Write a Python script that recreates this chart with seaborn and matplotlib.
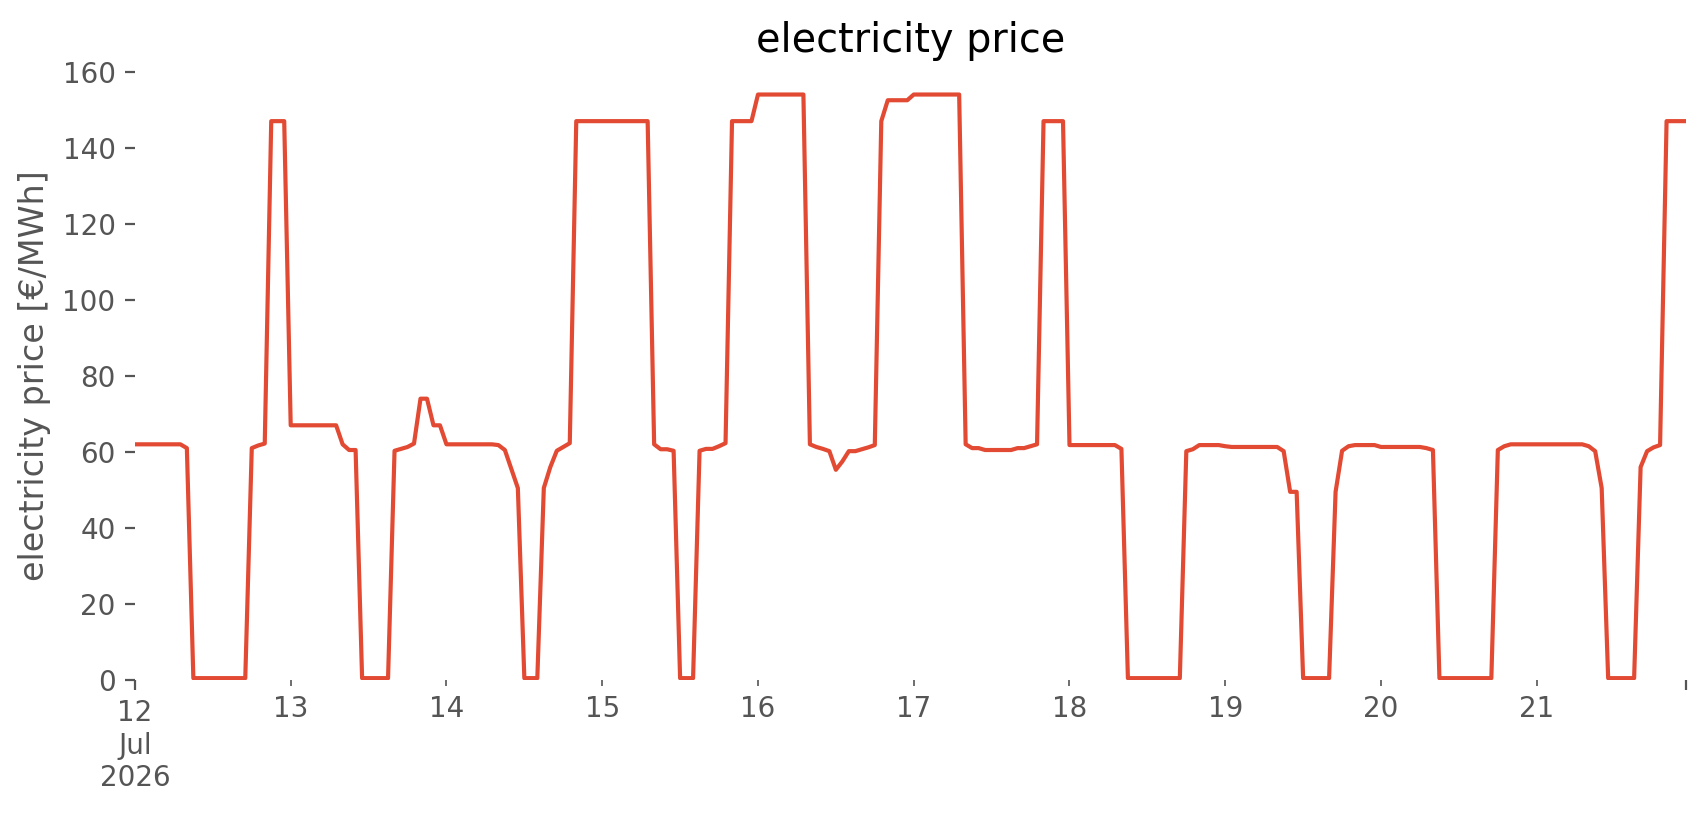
import matplotlib
matplotlib.use("Agg")
import matplotlib.pyplot as plt
import seaborn as sns
import pandas as pd

start = "2026-07-12 00:00"

day12 = [62, 62, 62, 62, 62, 62, 62, 62, 61, 0.5, 0.5, 0.5, 0.5, 0.5, 0.5, 0.5, 0.5, 0.5,
         61, 61.7, 62.2, 147, 147, 147]
day13 = [67, 67, 67, 67, 67, 67, 67, 67, 62, 60.5, 60.5, 0.5, 0.5, 0.5, 0.5, 0.5,
         60.3, 60.8, 61.3, 62.2, 74, 74, 67, 67]
day14 = [62, 62, 62, 62, 62, 62, 62, 62, 61.8, 60.5, 55.5, 50.5, 0.5, 0.5, 0.5,
         50.5, 56, 60.3, 61.3, 62.3, 147, 147, 147, 147]
day15 = [147, 147, 147, 147, 147, 147, 147, 147, 62, 60.7, 60.7, 60.3, 0.5, 0.5, 0.5,
         60.3, 60.8, 60.8, 61.5, 62.3, 147, 147, 147, 147]
day16 = [154, 154, 154, 154, 154, 154, 154, 154, 62, 61.3, 60.8, 60.2, 55.3, 57.5,
         60.2, 60.2, 60.7, 61.2, 61.8, 147, 152.5, 152.5, 152.5, 152.5]
day17 = [154, 154, 154, 154, 154, 154, 154, 154, 62, 61, 61, 60.5, 60.5, 60.5, 60.5,
         60.5, 61, 61, 61.5, 62, 147, 147, 147, 147]
day18 = [61.8, 61.8, 61.8, 61.8, 61.8, 61.8, 61.8, 61.8, 60.8, 0.5, 0.5, 0.5, 0.5, 0.5,
         0.5, 0.5, 0.5, 0.5, 60.2, 60.7, 61.8, 61.8, 61.8, 61.8]
day19 = [61.5, 61.3, 61.3, 61.3, 61.3, 61.3, 61.3, 61.3, 61.3, 60.2, 49.5, 49.5,
         0.5, 0.5, 0.5, 0.5, 0.5, 49.5, 60.3, 61.5, 61.8, 61.8, 61.8, 61.8]
day20 = [61.3, 61.3, 61.3, 61.3, 61.3, 61.3, 61.3, 61, 60.5, 0.5, 0.5, 0.5, 0.5, 0.5,
         0.5, 0.5, 0.5, 0.5, 60.5, 61.5, 62, 62, 62, 62]
day21 = [62, 62, 62, 62, 62, 62, 62, 62, 61.5, 60.2, 50.5, 0.5, 0.5, 0.5, 0.5, 0.5,
         56, 60.2, 61.2, 61.8, 147, 147, 147, 147]

prices = day12 + day13 + day14 + day15 + day16 + day17 + day18 + day19 + day20 + day21
times = pd.date_range(start, periods=len(prices), freq="h")
df = pd.DataFrame({"time": times, "price": prices})

title = "electricity price"
ylabel = "electricity price [€/MWh]"
yticks = [0, 20, 40, 60, 80, 100, 120, 140, 160]
day_labels = ["13", "14", "15", "16", "17", "18", "19", "20", "21"]
first_label = "12\nJul\n2026"

sns.set_style("white")
plt.rcParams['font.family'] = ['DejaVu Sans']
gray = "#555555"

fig, ax = plt.subplots(figsize=(8.53, 4.075), dpi=200)
fig.subplots_adjust(left=0.0791, right=0.9883, top=0.912, bottom=0.1656)

sns.lineplot(data=df, x="time", y="price", ax=ax, color="#E24A33", linewidth=1.5)

for s in ax.spines.values():
    s.set_visible(False)
ax.grid(False)

ax.set_xlim(times[0], times[-1])
ax.set_ylim(0, 160)
ax.set_yticks(yticks)
ax.set_yticklabels([str(v) for v in yticks])

major = [times[0], times[-1]]
minor = [pd.Timestamp("2026-07-%02d" % d) for d in range(13, 22)]
ax.set_xticks(major)
ax.set_xticklabels([first_label, ""])
ax.set_xticks(minor, minor=True)
ax.set_xticklabels(day_labels, minor=True)

ax.tick_params(axis="both", which="both", colors=gray, labelsize=10, direction="out")
ax.tick_params(axis="x", which="major", length=3.5, width=0.8, bottom=True)
ax.tick_params(axis="x", which="minor", length=2, width=0.6, bottom=True)
ax.tick_params(axis="y", which="major", length=3.5, width=0.8, left=True)
for lbl in ax.get_xticklabels():
    lbl.set_horizontalalignment("center")

ax.set_xlabel("")
ax.set_ylabel(ylabel, color=gray, fontsize=12)
ax.set_title(title, fontsize=14.3, color="black", pad=7.2)

fig.savefig("out.png", dpi=200)
